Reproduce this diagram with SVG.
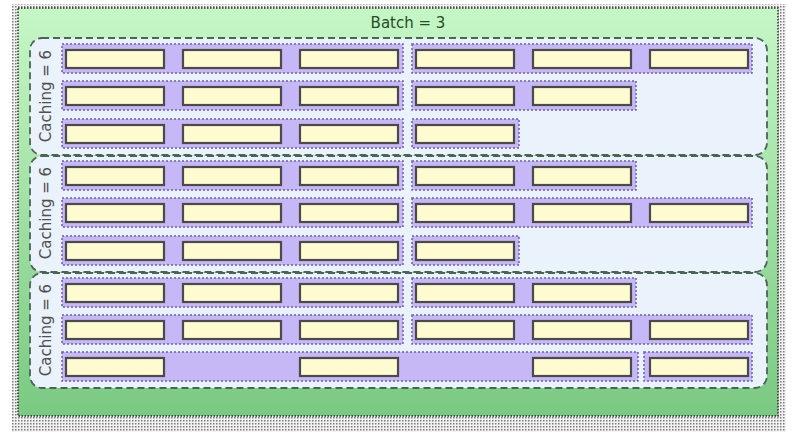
<svg xmlns="http://www.w3.org/2000/svg" width="798" height="441" viewBox="0 0 798 441">
  <defs>
    <linearGradient id="gBatch" x1="0" y1="0" x2="0" y2="1">
      <stop offset="0" stop-color="#c6f7c6"/>
      <stop offset="1" stop-color="#7ac982"/>
    </linearGradient>
    <pattern id="dots" width="3" height="3" patternUnits="userSpaceOnUse">
      <rect width="3" height="3" fill="#f2f2f2"/>
      <rect width="1.5" height="1.5" fill="#7a7a7a"/>
    </pattern>
  </defs>
  <style>
    .batch { fill: url(#gBatch); stroke: #2a2a2a; stroke-width: 1.5; stroke-dasharray: 1.5 1.5; }
    .shadow { fill: url(#dots); }
    .cache { fill: #eaf2fc; stroke: #4c6456; stroke-width: 1.8; stroke-dasharray: 7 4; }
    .row { fill: #c6b7f7; stroke: #6c60ae; stroke-width: 1.5; stroke-dasharray: 2 2; }
    .cell { fill: #fffbd0; stroke: #4a4a4a; stroke-width: 2.2; }
    .title { font-family: "DejaVu Sans", "Liberation Sans", sans-serif; font-size: 15px; fill: #284a2a; text-anchor: middle; }
    .lbl { font-family: "DejaVu Sans", "Liberation Sans", sans-serif; font-size: 15px; fill: #505050; text-anchor: middle; }
  </style>

  <g id="batch">
    <rect class="shadow" x="12" y="4" width="774" height="428"/>
    <rect class="batch" x="18" y="8" width="760" height="408"/>
    <text class="title" x="408" y="28">Batch = 3</text>
  </g>

  <!-- Caching group 1 -->
  <g id="caching1">
    <rect class="cache" x="30" y="38" width="737" height="117" rx="12"/>
    <text class="lbl" transform="translate(51,96) rotate(-90)">Caching = 6</text>
    <g id="c1r1">
      <rect class="row" x="62" y="44" width="341" height="29"/>
      <rect class="row" x="412" y="44" width="340" height="29"/>
      <rect class="cell" x="66" y="50" width="98" height="18"/>
      <rect class="cell" x="183" y="50" width="98" height="18"/>
      <rect class="cell" x="300" y="50" width="98" height="18"/>
      <rect class="cell" x="416" y="50" width="98" height="18"/>
      <rect class="cell" x="533" y="50" width="98" height="18"/>
      <rect class="cell" x="650" y="50" width="98" height="18"/>
    </g>
    <g id="c1r2">
      <rect class="row" x="62" y="81" width="341" height="29"/>
      <rect class="row" x="412" y="81" width="224" height="29"/>
      <rect class="cell" x="66" y="87" width="98" height="18"/>
      <rect class="cell" x="183" y="87" width="98" height="18"/>
      <rect class="cell" x="300" y="87" width="98" height="18"/>
      <rect class="cell" x="416" y="87" width="98" height="18"/>
      <rect class="cell" x="533" y="87" width="98" height="18"/>
    </g>
    <g id="c1r3">
      <rect class="row" x="62" y="119" width="341" height="29"/>
      <rect class="row" x="412" y="119" width="107" height="29"/>
      <rect class="cell" x="66" y="125" width="98" height="18"/>
      <rect class="cell" x="183" y="125" width="98" height="18"/>
      <rect class="cell" x="300" y="125" width="98" height="18"/>
      <rect class="cell" x="416" y="125" width="98" height="18"/>
    </g>
  </g>

  <!-- Caching group 2 -->
  <g id="caching2">
    <rect class="cache" x="30" y="156" width="737" height="116" rx="12"/>
    <text class="lbl" transform="translate(51,213) rotate(-90)">Caching = 6</text>
    <g id="c2r1">
      <rect class="row" x="62" y="161" width="341" height="29"/>
      <rect class="row" x="412" y="161" width="224" height="29"/>
      <rect class="cell" x="66" y="167" width="98" height="18"/>
      <rect class="cell" x="183" y="167" width="98" height="18"/>
      <rect class="cell" x="300" y="167" width="98" height="18"/>
      <rect class="cell" x="416" y="167" width="98" height="18"/>
      <rect class="cell" x="533" y="167" width="98" height="18"/>
    </g>
    <g id="c2r2">
      <rect class="row" x="62" y="198" width="341" height="29"/>
      <rect class="row" x="412" y="198" width="340" height="29"/>
      <rect class="cell" x="66" y="204" width="98" height="18"/>
      <rect class="cell" x="183" y="204" width="98" height="18"/>
      <rect class="cell" x="300" y="204" width="98" height="18"/>
      <rect class="cell" x="416" y="204" width="98" height="18"/>
      <rect class="cell" x="533" y="204" width="98" height="18"/>
      <rect class="cell" x="650" y="204" width="98" height="18"/>
    </g>
    <g id="c2r3">
      <rect class="row" x="62" y="236" width="341" height="29"/>
      <rect class="row" x="412" y="236" width="107" height="29"/>
      <rect class="cell" x="66" y="242" width="98" height="18"/>
      <rect class="cell" x="183" y="242" width="98" height="18"/>
      <rect class="cell" x="300" y="242" width="98" height="18"/>
      <rect class="cell" x="416" y="242" width="98" height="18"/>
    </g>
  </g>

  <!-- Caching group 3 -->
  <g id="caching3">
    <rect class="cache" x="30" y="273" width="737" height="115" rx="12"/>
    <text class="lbl" transform="translate(51,330) rotate(-90)">Caching = 6</text>
    <g id="c3r1">
      <rect class="row" x="62" y="278" width="341" height="29"/>
      <rect class="row" x="412" y="278" width="224" height="29"/>
      <rect class="cell" x="66" y="284" width="98" height="18"/>
      <rect class="cell" x="183" y="284" width="98" height="18"/>
      <rect class="cell" x="300" y="284" width="98" height="18"/>
      <rect class="cell" x="416" y="284" width="98" height="18"/>
      <rect class="cell" x="533" y="284" width="98" height="18"/>
    </g>
    <g id="c3r2">
      <rect class="row" x="62" y="315" width="341" height="29"/>
      <rect class="row" x="412" y="315" width="340" height="29"/>
      <rect class="cell" x="66" y="321" width="98" height="18"/>
      <rect class="cell" x="183" y="321" width="98" height="18"/>
      <rect class="cell" x="300" y="321" width="98" height="18"/>
      <rect class="cell" x="416" y="321" width="98" height="18"/>
      <rect class="cell" x="533" y="321" width="98" height="18"/>
      <rect class="cell" x="650" y="321" width="98" height="18"/>
    </g>
    <g id="c3r3">
      <rect class="row" x="62" y="352" width="576" height="29"/>
      <rect class="row" x="644" y="352" width="108" height="29"/>
      <rect class="cell" x="66" y="358" width="98" height="18"/>
      <rect class="cell" x="300" y="358" width="98" height="18"/>
      <rect class="cell" x="533" y="358" width="98" height="18"/>
      <rect class="cell" x="650" y="358" width="98" height="18"/>
    </g>
  </g>

  <g id="connectors"/>
</svg>
